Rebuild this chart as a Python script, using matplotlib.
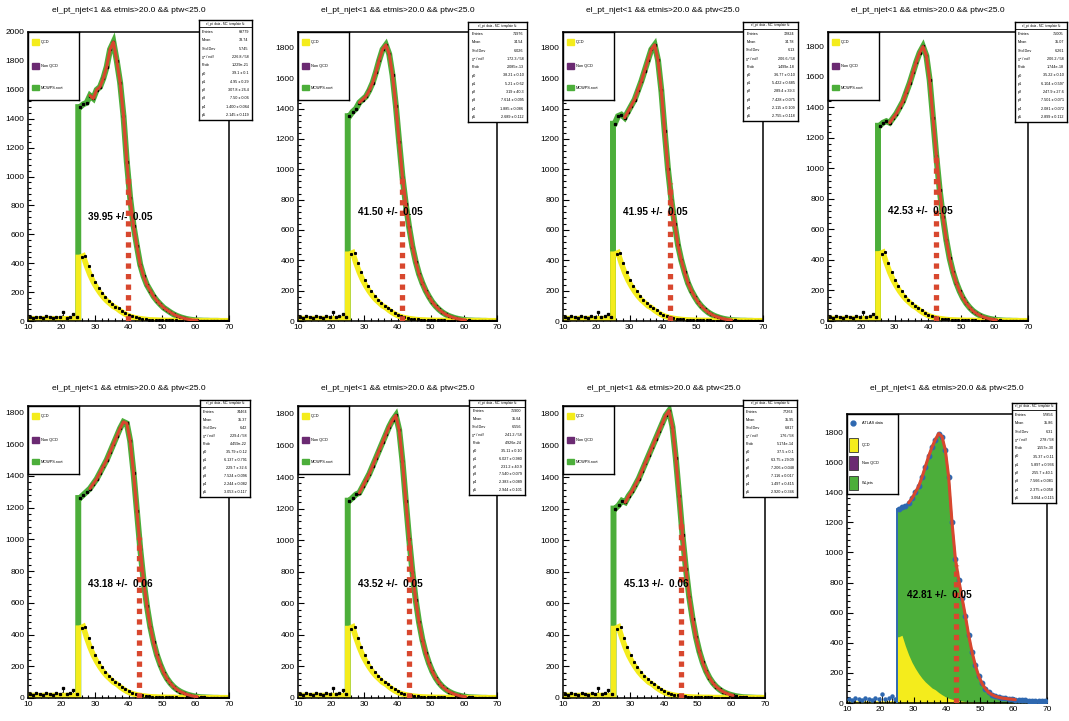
import numpy as np
import matplotlib.pyplot as plt
from matplotlib.ticker import MultipleLocator

plt.rcParams['font.family'] = ['Liberation Sans', 'DejaVu Sans']

title = "el_pt_njet<1 && etmis>20.0 && ptw<25.0"

# bins (1 GeV)
qcd_edges = np.arange(10, 71)
low_edges = np.arange(10, 26)
sig_edges = np.arange(25, 71)

# QCD template, 10..70 GeV
qcd = [15, 16, 15, 14, 16, 15, 15, 16, 15, 14, 15, 16, 15, 15, 16,
       440, 450, 380, 320, 270, 230, 195, 165, 140, 120, 100, 88, 70, 55, 42,
       32, 25, 20, 16, 13, 10, 8, 7, 6, 5, 5, 4, 4, 4, 3,
       3, 3, 3, 3, 2, 2, 2, 2, 2, 2, 2, 2, 2, 2, 2]

# data below the 25 GeV cut, 10..25 GeV
low_data = [28, 22, 30, 25, 20, 32, 26, 22, 30, 25, 62, 24, 30, 48, 26]

# MC total per panel, 25..70 GeV
mc_p1 = [1480, 1500, 1510, 1560, 1540, 1600, 1620, 1680, 1760, 1880, 1930, 1800, 1650, 1420, 1100,
         850, 660, 520, 390, 310, 250, 210, 170, 140, 115, 92, 76, 60, 46, 35,
         26, 19, 13, 9, 6, 4, 3, 2, 2, 1, 1, 1, 0, 0, 0]
mc_p2 = [1350, 1380, 1400, 1440, 1460, 1480, 1520, 1570, 1640, 1720, 1790, 1820, 1760, 1620, 1420,
         1180, 950, 770, 620, 490, 390, 310, 250, 200, 160, 125, 98, 76, 58, 44,
         33, 25, 18, 13, 9, 6, 4, 3, 2, 2, 1, 1, 0, 0, 0]
mc_p3 = [1300, 1350, 1360, 1340, 1380, 1420, 1460, 1520, 1580, 1650, 1720, 1790, 1820, 1720, 1520,
         1250, 1000, 800, 640, 500, 400, 320, 250, 200, 160, 125, 98, 76, 58, 44,
         33, 25, 18, 13, 9, 6, 4, 3, 2, 2, 1, 1, 0, 0, 0]
mc_p4 = [1280, 1300, 1310, 1300, 1330, 1360, 1400, 1440, 1500, 1560, 1630, 1700, 1760, 1800, 1740,
         1580, 1330, 1080, 860, 680, 530, 410, 320, 250, 195, 150, 115, 88, 66, 50,
         37, 27, 20, 14, 10, 7, 5, 3, 2, 2, 1, 1, 0, 0, 0]
mc_p5 = [1260, 1280, 1300, 1320, 1350, 1380, 1420, 1460, 1500, 1550, 1600, 1650, 1700, 1740, 1730,
         1620, 1420, 1180, 940, 740, 580, 450, 350, 270, 210, 160, 122, 93, 70, 53,
         40, 30, 22, 16, 11, 8, 5, 4, 3, 2, 1, 1, 0, 0, 0]
mc_p6 = [1250, 1270, 1290, 1300, 1340, 1380, 1420, 1470, 1520, 1570, 1620, 1670, 1720, 1760, 1790,
         1700, 1500, 1250, 1010, 800, 620, 480, 370, 285, 220, 168, 128, 97, 73, 55,
         41, 30, 22, 16, 11, 8, 5, 4, 3, 2, 1, 1, 0, 0, 0]
mc_p7 = [1200, 1220, 1250, 1240, 1280, 1310, 1350, 1390, 1440, 1490, 1540, 1590, 1640, 1690, 1740,
         1790, 1820, 1720, 1520, 1280, 1030, 820, 640, 500, 385, 295, 225, 170, 128, 96,
         72, 54, 40, 30, 22, 16, 11, 8, 5, 4, 3, 2, 1, 1, 0]
# last panel: ATLAS data
data_p8 = [1290, 1300, 1310, 1330, 1360, 1400, 1440, 1500, 1570, 1640, 1700, 1750, 1790, 1770, 1680,
           1500, 1200, 960, 820, 700, 580, 450, 340, 250, 180, 130, 95, 70, 55, 45,
           38, 33, 30, 27, 25, 22, 20, 19, 18, 16, 15, 14, 12, 11, 10]

panels = [mc_p1, mc_p2, mc_p3, mc_p4, mc_p5, mc_p6, mc_p7, data_p8]

fit_value = [39.95, 41.50, 41.95, 42.53, 43.18, 43.52, 45.13, 42.81]
fit_error = [0.05, 0.05, 0.05, 0.05, 0.06, 0.05, 0.06, 0.05]
y_max = [2000, 1905, 1905, 1895, 1840, 1850, 1850, 1920]

# stats boxes
st_entries = ["69779", "71976", "72824", "75005", "74464", "75900", "77264", "57856"]
st_mean = ["33.74", "34.54", "34.78", "35.07", "35.37", "35.64", "35.95", "35.86"]
st_std = ["5.745", "6.026", "6.13", "6.261", "6.42", "6.556", "6.817", "6.31"]
st_chi2 = ["226.8 / 58", "172.3 / 58", "206.6 / 58", "206.2 / 58", "229.4 / 58",
           "241.2 / 58", "176 / 58", "278 / 58"]
st_prob = ["1.229e-21", "2.085e-13", "1.499e-18", "1.744e-18", "4.459e-22",
           "4.926e-24", "5.174e-14", "1.557e-30"]
st_par = [
    ["39.1 \u00b1 0.1", "4.95 \u00b1 0.29", "307.8 \u00b1 26.4", "7.50 \u00b1 0.06", "1.400 \u00b1 0.064", "2.145 \u00b1 0.119"],
    ["38.21 \u00b1 0.10", "5.21 \u00b1 0.62", "319 \u00b1 40.3", "7.614 \u00b1 0.095", "1.885 \u00b1 0.086", "2.689 \u00b1 0.112"],
    ["36.77 \u00b1 0.10", "5.422 \u00b1 0.685", "289.4 \u00b1 39.3", "7.428 \u00b1 0.075", "2.115 \u00b1 0.109", "2.755 \u00b1 0.118"],
    ["35.22 \u00b1 0.10", "6.104 \u00b1 0.597", "247.9 \u00b1 27.6", "7.501 \u00b1 0.071", "2.081 \u00b1 0.072", "2.899 \u00b1 0.112"],
    ["35.79 \u00b1 0.12", "6.137 \u00b1 0.791", "229.7 \u00b1 32.6", "7.524 \u00b1 0.096", "2.244 \u00b1 0.082", "3.053 \u00b1 0.117"],
    ["35.11 \u00b1 0.10", "6.027 \u00b1 0.980", "231.2 \u00b1 40.9", "7.540 \u00b1 0.079", "2.383 \u00b1 0.089", "2.944 \u00b1 0.101"],
    ["37.5 \u00b1 0.1", "63.75 \u00b1 29.09", "7.206 \u00b1 0.048", "7.116 \u00b1 0.017", "1.497 \u00b1 0.415", "2.920 \u00b1 0.346"],
    ["35.37 \u00b1 0.11", "5.897 \u00b1 0.936", "255.7 \u00b1 40.1", "7.566 \u00b1 0.081", "2.375 \u00b1 0.058", "3.064 \u00b1 0.115"],
]

# layout in pixels: left, top, right, bottom
W, H = 1069, 721
axes_px = [(28, 32, 229, 321), (298, 32, 497, 321), (563, 32, 763, 321), (828, 32, 1028, 321),
           (28, 406, 229, 698), (298, 406, 497, 698), (563, 406, 765, 698), (847, 414, 1047, 703)]
stats_px = [(199, 20, 252, 120), (468, 22, 527, 122), (743, 22, 798, 121), (1015, 22, 1067, 122),
            (200, 400, 250, 497), (469, 400, 525, 495), (743, 400, 797, 497), (1012, 403, 1056, 503)]
title_y = [10, 10, 10, 10, 388, 388, 388, 389]

GREEN = '#4cae3a'
YELLOW = '#f4ec1c'
RED = '#d8472e'
BLUE = '#2e68b0'
PURPLE = '#6b2a72'


def rect(px):
    l, t, r, b = px
    return [l / W, 1 - b / H, (r - l) / W, (b - t) / H]


def draw_stats(fig, k):
    sx = fig.add_axes(rect(stats_px[k]), zorder=5)
    sx.set_xlim(0, 1)
    sx.set_ylim(0, 1)
    sx.set_xticks([])
    sx.set_yticks([])
    for s in sx.spines.values():
        s.set_linewidth(1.0)
    sx.axhline(0.93, color='black', lw=0.6)
    sx.text(0.5, 0.965, "el_pt  data - MC  template fit", ha='center', va='center', fontsize=2.2)
    labels = ["Entries", "Mean", "Std Dev", "\u03c7\u00b2 / ndf", "Prob",
              "p0", "p1", "p2", "p3", "p4", "p5"]
    values = [st_entries[k], st_mean[k], st_std[k], st_chi2[k], st_prob[k]] + st_par[k]
    for j, (lab, val) in enumerate(zip(labels, values)):
        y = 0.88 - j * 0.083
        sx.text(0.06, y, lab, ha='left', va='center', fontsize=2.7)
        sx.text(0.94, y, val, ha='right', va='center', fontsize=2.7)


def draw_legend(fig, k):
    l, t, r, b = axes_px[k]
    lx = fig.add_axes(rect((l, t, l + 51, t + (80 if k == 7 else 68))), zorder=4)
    lx.set_xlim(0, 1)
    lx.set_ylim(0, 1)
    lx.set_xticks([])
    lx.set_yticks([])
    for s in lx.spines.values():
        s.set_linewidth(1.0)
    if k < 7:
        entries = [("QCD", YELLOW, 0.85), ("Non QCD", PURPLE, 0.5), ("MCWPS.root", GREEN, 0.18)]
        for lab, col, y in entries:
            lx.add_patch(plt.Rectangle((0.07, y - 0.04), 0.14, 0.08, color=col))
            lx.text(0.25, y, lab, ha='left', va='center', fontsize=2.8)
    else:
        lx.plot([0.12], [0.89], 'o', color=BLUE, ms=3.5)
        lx.text(0.3, 0.89, "ATLAS data", ha='left', va='center', fontsize=2.8)
        entries = [("QCD", YELLOW, 0.61), ("Non QCD", PURPLE, 0.39), ("W+jets", GREEN, 0.14)]
        for lab, col, y in entries:
            lx.add_patch(plt.Rectangle((0.03, y - 0.09), 0.19, 0.18, facecolor=col,
                                       edgecolor='#333333', lw=0.6))
            lx.text(0.3, y, lab, ha='left', va='center', fontsize=2.8)


def draw_panel(fig, k):
    l, t, r, b = axes_px[k]
    ax = fig.add_axes(rect(axes_px[k]), zorder=2)
    vals = np.array(panels[k], dtype=float)
    qv = np.array(qcd, dtype=float)
    centers = sig_edges[:-1] + 0.5
    qcd_c = qcd_edges[:-1] + 0.5
    low_c = low_edges[:-1] + 0.5

    # rising edge at the 25 GeV cut, then through bin centres
    gx = np.concatenate([[25, 25], centers, [70]])
    gy = np.concatenate([[0, vals[0]], vals, [vals[-1]]])
    qx = np.concatenate([[10], qcd_c[:15], [25, 25], qcd_c[15:], [70]])
    qy = np.concatenate([[qv[0]], qv[:15], [qv[14], qv[15]], qv[15:], [qv[-1]]])

    if k < 7:
        ax.plot(gx, gy, color=GREEN, lw=4.3, solid_joinstyle='miter', zorder=2)
        ax.plot(qx, qy, color=YELLOW, lw=4.0, solid_joinstyle='miter', zorder=2.5)
        ax.plot(centers, vals, 's', color='black', ms=1.4, zorder=4)
        ax.plot(qcd_c[15:] + 0.6, qv[15:], 's', color='black', ms=1.2, zorder=4)
        ax.plot(low_c, low_data, 's', color='black', ms=1.4, zorder=4)
        ax.vlines(low_c, 0, low_data, color='black', lw=0.6)
    else:
        ax.fill_between(gx, 0, gy, color=GREEN, lw=0, zorder=1)
        ax.fill_between(qx, 0, qy, color=YELLOW, lw=0, zorder=1.5)
        ax.plot(gx, gy, color=BLUE, lw=1.4, zorder=3)
        ax.plot(centers, vals, 'o', color=BLUE, ms=3.2, zorder=4)
        ax.plot(low_c, low_data, 'o', color=BLUE, ms=2.2, zorder=4)
        ax.vlines(low_c, 0, low_data, color='#222222', lw=0.7)

    # fit curve
    sel = (centers >= 28) & (centers <= 60.5)
    ax.plot(centers[sel], vals[sel], color=RED, lw=2.2, zorder=5,
            solid_capstyle='round', solid_joinstyle='round')

    # fitted position marker
    top = np.interp(fit_value[k], centers, vals)
    ax.plot([fit_value[k], fit_value[k]], [0, top], color=RED, lw=3.8,
            linestyle=(0, (1, 1)), dash_capstyle='butt', zorder=6)
    ax.text(28.0, 720, f"{fit_value[k]:.2f} +/-  {fit_error[k]:.2f}", fontsize=7.2,
            fontweight='bold', ha='left', va='center', zorder=7)

    ax.set_xlim(10, 70)
    ax.set_ylim(0, y_max[k])
    ax.xaxis.set_major_locator(MultipleLocator(10))
    ax.xaxis.set_minor_locator(MultipleLocator(2))
    ax.yaxis.set_major_locator(MultipleLocator(200))
    ax.yaxis.set_minor_locator(MultipleLocator(40))
    ax.tick_params(which='both', direction='in', labelsize=6, pad=2.5, width=0.8)
    ax.tick_params(which='major', length=4)
    ax.tick_params(which='minor', length=2)
    for s in ax.spines.values():
        s.set_linewidth(1.1)
    fig.text(((l + r) / 2) / W, 1 - title_y[k] / H, title,
             ha='center', va='center', fontsize=6)
    draw_legend(fig, k)
    draw_stats(fig, k)


fig = plt.figure(figsize=(W / 100, H / 100), dpi=100)
for k in range(8):
    draw_panel(fig, k)
fig.savefig("out.png", dpi=100)
